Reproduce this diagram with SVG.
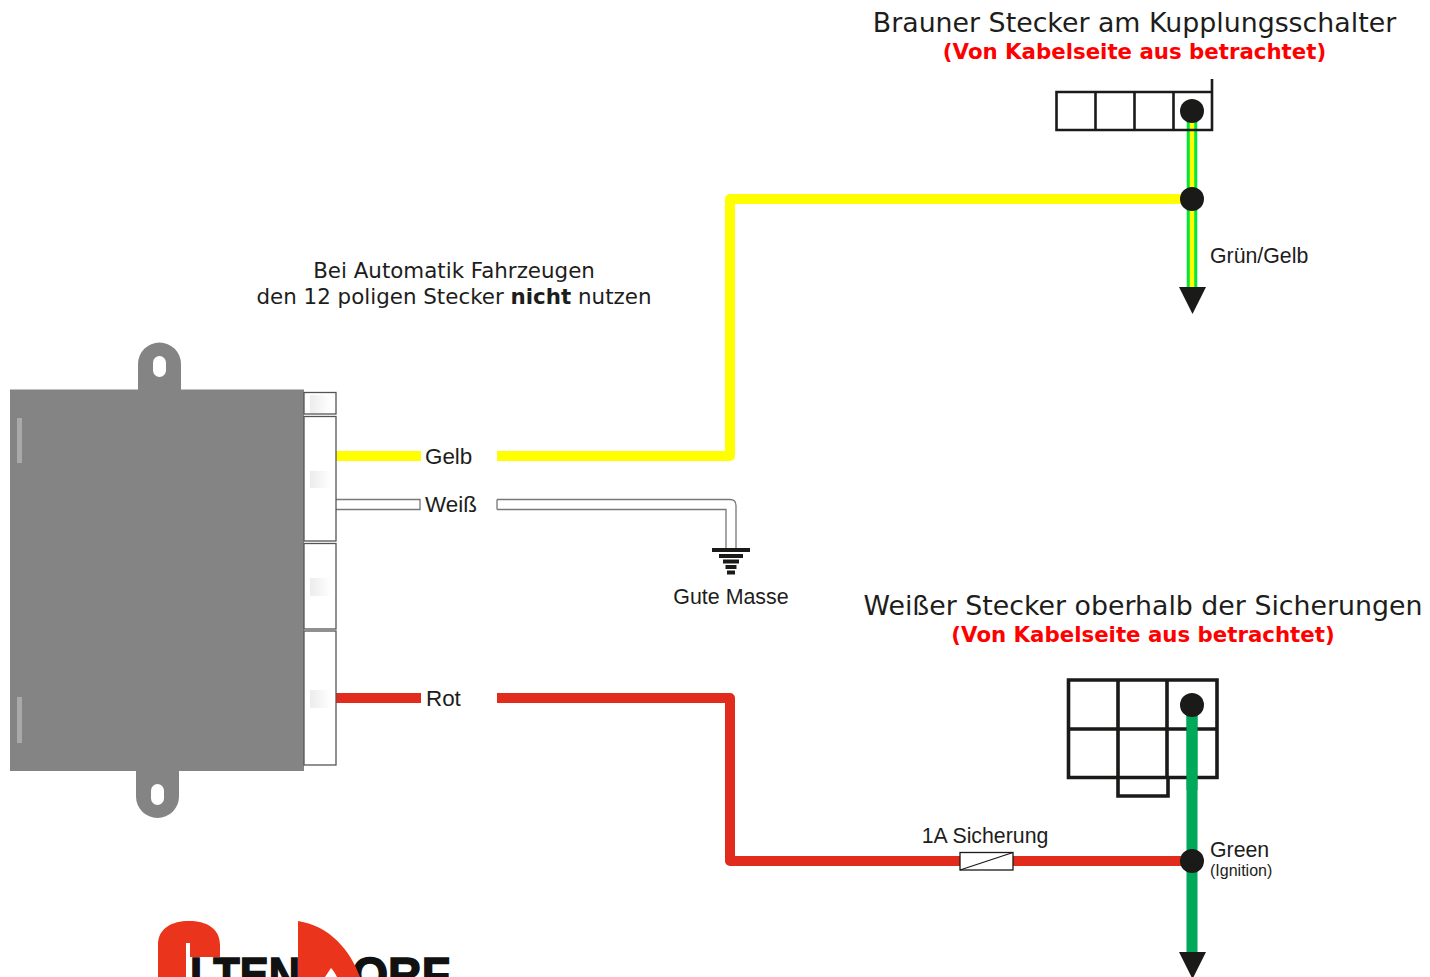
<svg xmlns="http://www.w3.org/2000/svg" width="1430" height="977" viewBox="0 0 1430 977">
<style>
.h{font-family:"DejaVu Sans",Verdana,sans-serif;fill:#1d1d1b}
.r{font-family:"DejaVu Sans",Verdana,sans-serif;font-weight:700;fill:#ff0000;font-size:21.300px}
.l{font-family:"Liberation Sans",Arial,sans-serif;fill:#1d1d1b;font-size:21.300px}
.b{font-size:22.400px}
.d{fill:#1a1a18}
.w{fill:none;stroke-linejoin:round}
.c{fill:#fff;stroke:#555;stroke-width:1.300}
.g{fill:url(#pg)}
.k{fill:none;stroke:#1a1a18}
.lg{font-family:"Liberation Sans",Arial,sans-serif;font-weight:700;font-size:48px;fill:#111;stroke:#111;stroke-width:1.500}
</style>
<defs>
<linearGradient id="pg"><stop offset="0" stop-color="#ececec"/><stop offset="1" stop-color="#fff"/></linearGradient>
</defs>
<rect width="1430" height="977" fill="#fff"/>
<g id="connectors">
<path class="w" d="M336 456H421M497 456H730V199H1192" stroke="#ffff00" stroke-width="10"/>
<path class="w" d="M336 698H421M497 698H730V861H1192" stroke="#e02b1d" stroke-width="10"/>
<path class="w" d="M1192 111V292" stroke="#00e63c" stroke-width="10.500"/>
<path class="w" d="M1192 111V292" stroke="#ffff00" stroke-width="4.500"/>
<path class="w" d="M1192 705V957" stroke="#00a859" stroke-width="11"/>
<g id="white-wire" fill="none" stroke="#777" stroke-width="1.300">
<path d="M336 499.500H420V509.500H336"/>
<path d="M497 499.500H730Q736 499.500 736 505.500V548M497 509.500H726V548M497 499.500V509.500"/>
</g>
</g>
<g id="ecu">
<path d="M10 389.500H138V364A21.500 21.500 0 0 1 181 364V389.500H304V771H179V796.500A21.500 21.500 0 0 1 136 796.500V771H10Z" fill="#848484"/>
<rect x="153" y="356" width="13" height="21" rx="6.500" fill="#fff"/>
<rect x="151" y="784" width="13" height="21" rx="6.500" fill="#fff"/>
<rect x="17" y="418" width="5" height="45" fill="#a9a9a9"/>
<rect x="17" y="697" width="5" height="46" fill="#a9a9a9"/>
<rect class="c" x="304" y="392.500" width="32" height="21.500"/>
<rect class="c" x="304" y="416.500" width="32" height="124.500"/>
<rect class="c" x="304" y="543.500" width="32" height="85.500"/>
<rect class="c" x="304" y="631" width="32" height="134"/>
<rect class="g" x="310" y="395" width="21" height="18"/>
<rect class="g" x="310" y="471" width="21" height="17"/>
<rect class="g" x="310" y="578" width="21" height="18"/>
<rect class="g" x="310" y="690" width="21" height="18"/>
</g>
<g id="label-gelb"><text class="l b" x="425" y="463.500">Gelb</text></g>
<g id="label-weiss"><text class="l b" x="425" y="511.500">Weiß</text></g>
<g id="label-rot"><text class="l b" x="426" y="705.500">Rot</text></g>
<g id="note"><text class="h" font-size="21.400" x="454" y="278" text-anchor="middle">Bei Automatik Fahrzeugen</text>
<text class="h" font-size="21.400" x="454" y="304" text-anchor="middle">den 12 poligen Stecker <tspan font-weight="700">nicht</tspan> nutzen</text></g>
<g id="ground">
<rect class="d" x="712" y="548" width="38" height="4"/>
<rect class="d" x="719" y="554" width="24" height="4"/>
<rect class="d" x="723" y="559.500" width="16" height="4"/>
<rect class="d" x="725.500" y="565" width="11" height="4"/>
<rect class="d" x="727" y="570.500" width="8" height="4"/>
<text class="l" style="font-size:21.400px" x="731" y="603.500" text-anchor="middle">Gute Masse</text>
</g>
<g id="brown-connector">
<text class="h" font-size="26.800" x="1134.500" y="32" text-anchor="middle">Brauner Stecker am Kupplungsschalter</text>
<text class="r" x="1134.500" y="59" text-anchor="middle">(Von Kabelseite aus betrachtet)</text>
<path class="k" stroke-width="2.600" d="M1056.500 92H1212V130H1056.500ZM1095.500 92V130M1134.500 92V130M1173.500 92V130M1212 79V92"/>
<circle class="d" cx="1192" cy="111" r="12"/>
</g>
<g id="junction-yellow"><circle class="d" cx="1192" cy="199" r="12"/>
<path class="d" d="M1179 287H1206L1192.500 314Z"/>
<text class="l" x="1210" y="263">Grün/Gelb</text></g>
<g id="white-connector">
<text class="h" font-size="26.800" x="1143" y="615" text-anchor="middle">Weißer Stecker oberhalb der Sicherungen</text>
<text class="r" x="1143" y="642" text-anchor="middle">(Von Kabelseite aus betrachtet)</text>
<path class="k" stroke-width="3.600" d="M1068.500 680H1217V729H1068.500ZM1068.500 729V777.500H1217V729M1118 680V777.500M1167 680V777.500M1118 777.500V796H1168V777.500"/>
<path d="M1192 705V790" stroke="#00a859" stroke-width="11"/>
<circle class="d" cx="1192" cy="705" r="12"/>
</g>
<g id="junction-red"><circle class="d" cx="1192" cy="861" r="12"/>
<path class="d" d="M1179 952H1206L1192.500 979Z"/>
<text class="l" x="1210" y="857">Green</text>
<text class="l" style="font-size:16px" x="1210" y="876">(Ignition)</text></g>
<g id="fuse">
<rect x="960" y="852.500" width="53" height="17.500" fill="#fff" stroke="#1a1a18" stroke-width="1.300"/>
<path d="M960 870L1013 852.500" stroke="#1a1a18" stroke-width="1.300"/>
<text class="l" x="985" y="843" text-anchor="middle">1A Sicherung</text>
</g>
<g id="logo">
<text class="lg" x="190" y="991" textLength="110" lengthAdjust="spacingAndGlyphs">LTEN</text>
<text class="lg" x="352" y="991" textLength="98" lengthAdjust="spacingAndGlyphs">ORF</text>
<path d="M158 977V945C158 928 172 921 189 921C206 921 220 928 220 945V957H190V943H186V977Z" fill="#ea341b"/>
<path d="M298 921C330 926 350 950 360 977H337C335 973 333 970 331 968L325 977H298Z" fill="#ea341b"/>
</g>
</svg>
